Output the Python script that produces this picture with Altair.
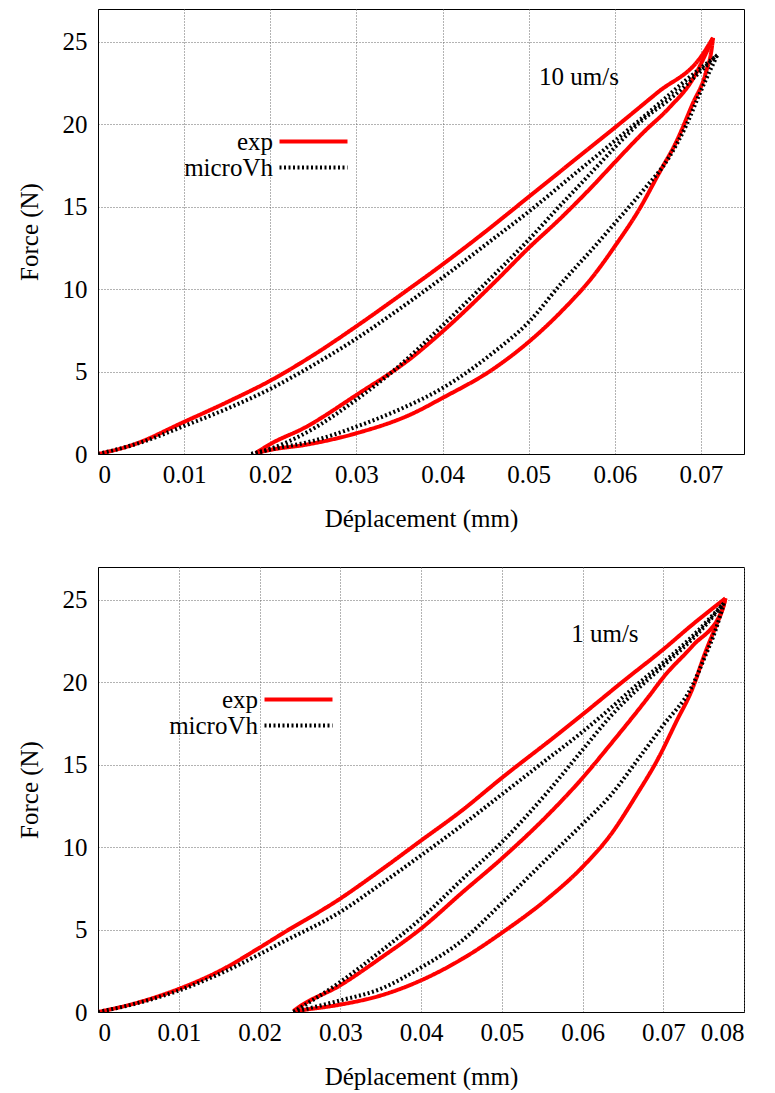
import altair as alt
import pandas as pd

# ---------------- Panel 1 : 10 um/s ----------------
p1_exp_load_x = [0, 0.004, 0.01, 0.015, 0.02, 0.025, 0.03, 0.035, 0.04, 0.045, 0.05, 0.055, 0.06, 0.065, 0.07, 0.0714]
p1_exp_load_f = [0, 0.55, 1.95, 3.15, 4.45, 6.0, 7.75, 9.6, 11.5, 13.5, 15.6, 17.7, 19.8, 21.95, 24.1, 25.25]
p1_exp_unload_x = [0.0714, 0.0713, 0.0706, 0.069, 0.0671, 0.0652, 0.0629, 0.06, 0.0575, 0.0537, 0.05, 0.046, 0.04, 0.0363, 0.03, 0.024, 0.02, 0.0183]
p1_exp_unload_f = [25.25, 24.8, 23.2, 21.2, 18.9, 17.1, 14.9, 12.6, 10.8, 8.6, 6.8, 5.2, 3.4, 2.4, 1.26, 0.55, 0.25, 0.05]
p1_exp_reload_x = [0.0183, 0.02, 0.024, 0.03, 0.0363, 0.04, 0.046, 0.05, 0.0537, 0.0575, 0.06, 0.0633, 0.0663, 0.069, 0.0714]
p1_exp_reload_f = [0.05, 0.6, 1.6, 3.58, 5.8, 7.43, 10.4, 12.5, 14.3, 16.3, 17.7, 19.5, 21.0, 22.7, 25.25]

p1_mvh_load_x = [0, 0.005, 0.01, 0.015, 0.02, 0.025, 0.03, 0.035, 0.04, 0.045, 0.05, 0.055, 0.06, 0.065, 0.0683, 0.0719]
p1_mvh_load_f = [0, 0.7, 1.7, 2.75, 3.95, 5.4, 7.0, 8.8, 10.7, 12.7, 14.7, 16.85, 19.0, 21.2, 22.7, 24.2]
p1_mvh_unload_x = [0.0719, 0.071, 0.0698, 0.0683, 0.0663, 0.0633, 0.06, 0.0575, 0.0537, 0.05, 0.046, 0.04, 0.035, 0.03, 0.025, 0.0199, 0.0178]
p1_mvh_unload_f = [24.2, 23.2, 21.8, 19.95, 18.0, 16.0, 14.0, 12.5, 10.3, 8.0, 6.2, 4.0, 2.7, 1.66, 0.8, 0.26, 0.0]
p1_mvh_reload_x = [0.0178, 0.0199, 0.0242, 0.03, 0.0342, 0.04, 0.0443, 0.05, 0.0537, 0.0575, 0.06, 0.0633, 0.0663, 0.0719]
p1_mvh_reload_f = [0.0, 0.3, 1.3, 3.3, 5.0, 7.8, 10.0, 13.0, 15.1, 17.2, 18.6, 20.3, 21.5, 24.2]

# ---------------- Panel 2 : 1 um/s ----------------
p2_exp_load_x = [0, 0.0044, 0.01, 0.0151, 0.02, 0.0225, 0.03, 0.035, 0.04, 0.045, 0.05, 0.0572, 0.06, 0.065, 0.07, 0.0736, 0.0777]
p2_exp_load_f = [0, 0.5, 1.4, 2.5, 3.9, 4.66, 6.88, 8.6, 10.4, 12.2, 14.2, 16.95, 18.05, 20.05, 22.0, 23.5, 25.1]
p2_exp_unload_x = [0.0777, 0.0775, 0.0765, 0.0752, 0.0736, 0.0716, 0.0695, 0.0666, 0.0634, 0.06, 0.0556, 0.05, 0.0452, 0.04, 0.035, 0.03, 0.0258, 0.0242]
p2_exp_unload_f = [25.1, 24.7, 23.4, 21.8, 19.6, 17.6, 15.5, 13.1, 10.7, 8.8, 6.85, 4.8, 3.25, 1.92, 1.0, 0.45, 0.15, 0.05]
p2_exp_reload_x = [0.0242, 0.0246, 0.03, 0.0349, 0.04, 0.0452, 0.05, 0.0556, 0.06, 0.0634, 0.0683, 0.07, 0.0736, 0.0773, 0.0777]
p2_exp_reload_f = [0.05, 0.2, 1.62, 3.24, 5.06, 7.29, 9.31, 11.9, 14.2, 16.2, 19.2, 20.3, 22.2, 24.4, 25.1]

p2_mvh_load_x = [0, 0.005, 0.01, 0.015, 0.02, 0.0225, 0.03, 0.035, 0.04, 0.045, 0.05, 0.055, 0.06, 0.0634, 0.0666, 0.07, 0.0736, 0.0775]
p2_mvh_load_f = [0, 0.55, 1.3, 2.3, 3.5, 4.15, 6.07, 7.75, 9.5, 11.3, 13.2, 15.1, 17.0, 18.4, 19.8, 21.2, 22.8, 24.8]
p2_mvh_unload_x = [0.0775, 0.0765, 0.0752, 0.0736, 0.07, 0.0675, 0.0634, 0.06, 0.0556, 0.05, 0.045, 0.04, 0.035, 0.03, 0.0242]
p2_mvh_unload_f = [24.8, 23.2, 21.6, 19.8, 17.4, 15.75, 13.1, 11.4, 9.3, 6.6, 4.3, 2.7, 1.4, 0.7, 0.0]
p2_mvh_reload_x = [0.0242, 0.03, 0.0349, 0.04, 0.0452, 0.05, 0.0556, 0.06, 0.0634, 0.0675, 0.07, 0.0753, 0.0775]
p2_mvh_reload_f = [0.0, 1.82, 3.64, 5.67, 8.1, 10.3, 13.3, 15.9, 17.9, 19.9, 21.0, 23.5, 24.8]

series_names = ["exp", "microVh"]
x_ticks_1 = [0, 0.01, 0.02, 0.03, 0.04, 0.05, 0.06, 0.07]
x_ticks_2 = [0, 0.01, 0.02, 0.03, 0.04, 0.05, 0.06, 0.07, 0.08]
y_ticks = [0, 5, 10, 15, 20, 25]
labels_1 = ["10 um/s"]
labels_2 = ["1 um/s"]
label_pos_1 = ([0.0512], [22.9])
label_pos_2 = ([0.0586], [22.95])

FONT = "Liberation Serif, Times New Roman, DejaVu Serif, serif"
FS = 25


def build(parts):
    rows = []
    for name, segs in parts:
        for k, (xs, fs) in enumerate(segs):
            for xv, fv in zip(xs, fs):
                rows.append({"series": name, "seg": f"{name}-{k}", "x": xv, "f": fv})
    return pd.DataFrame(rows)


df1 = build([
    ("exp", [(p1_exp_load_x, p1_exp_load_f), (p1_exp_unload_x, p1_exp_unload_f), (p1_exp_reload_x, p1_exp_reload_f)]),
    ("microVh", [(p1_mvh_load_x, p1_mvh_load_f), (p1_mvh_unload_x, p1_mvh_unload_f), (p1_mvh_reload_x, p1_mvh_reload_f)]),
])
df2 = build([
    ("exp", [(p2_exp_load_x, p2_exp_load_f), (p2_exp_unload_x, p2_exp_unload_f), (p2_exp_reload_x, p2_exp_reload_f)]),
    ("microVh", [(p2_mvh_load_x, p2_mvh_load_f), (p2_mvh_unload_x, p2_mvh_unload_f), (p2_mvh_reload_x, p2_mvh_reload_f)]),
])


def make_legend(lx, ly):
    return alt.Legend(
        title=None, orient="none", legendX=lx, legendY=ly,
        symbolType="M-4,0H4", symbolSize=289, symbolStrokeWidth=4,
        labelAlign="right", labelOffset={"expr": "-53"}, labelFont=FONT, labelFontSize=FS,
        labelColor="black", rowPadding={"expr": "-1"}, padding=0,
    )


def panel(df, xmax, xticks, label, lpos, lx, ly):
    legend = make_legend(lx, ly)
    x_enc = alt.X("x:Q", scale=alt.Scale(domain=[0, xmax], nice=False, zero=False),
                  axis=alt.Axis(values=xticks, format=".2~f", title="Déplacement (mm)"))
    y_enc = alt.Y("f:Q", scale=alt.Scale(domain=[0, 27], nice=False),
                  axis=alt.Axis(values=y_ticks, title="Force (N)"))
    lines = alt.Chart(df).mark_line(strokeWidth=4, clip=True, interpolate="monotone").encode(
        x=x_enc, y=y_enc,
        color=alt.Color("series:N", scale=alt.Scale(domain=series_names, range=["#ff0000", "#000000"]), legend=legend),
        strokeDash=alt.StrokeDash("series:N", scale=alt.Scale(domain=series_names, range=[[1, 0], [2, 2.5]]), legend=legend),
        detail="seg:N",
    )
    tdf = pd.DataFrame({"x": lpos[0], "f": lpos[1], "t": label})
    text = alt.Chart(tdf).mark_text(align="left", baseline="middle", font=FONT, fontSize=FS, color="black").encode(
        x="x:Q", y="f:Q", text="t:N")
    return alt.layer(lines, text).properties(width=646, height=445)


top = panel(df1, 0.075, x_ticks_1, labels_1, label_pos_1, 203, 120)
bottom = panel(df2, 0.08, x_ticks_2, labels_2, label_pos_2, 188, 120)

chart = alt.vconcat(top, bottom, spacing=34).properties(
    padding={"left": 8, "top": 0, "right": 5, "bottom": 0}
).resolve_legend(color="independent", strokeDash="independent").configure_view(
    stroke="black", strokeWidth=1
).configure_axis(
    labelFont=FONT, labelFontSize=FS, titleFont=FONT, titleFontSize=FS, titleFontWeight="normal",
    labelColor="black", titleColor="black", ticks=False, domainColor="black",
    gridColor="#666666", gridDash=[1, 2], gridWidth=1, gridOpacity=1,
).configure_axisX(labelPadding=8, titlePadding=19).configure_axisY(labelPadding=11, titlePadding=20)

chart.save("out.html", embed_options={"renderer": "svg", "actions": False})
